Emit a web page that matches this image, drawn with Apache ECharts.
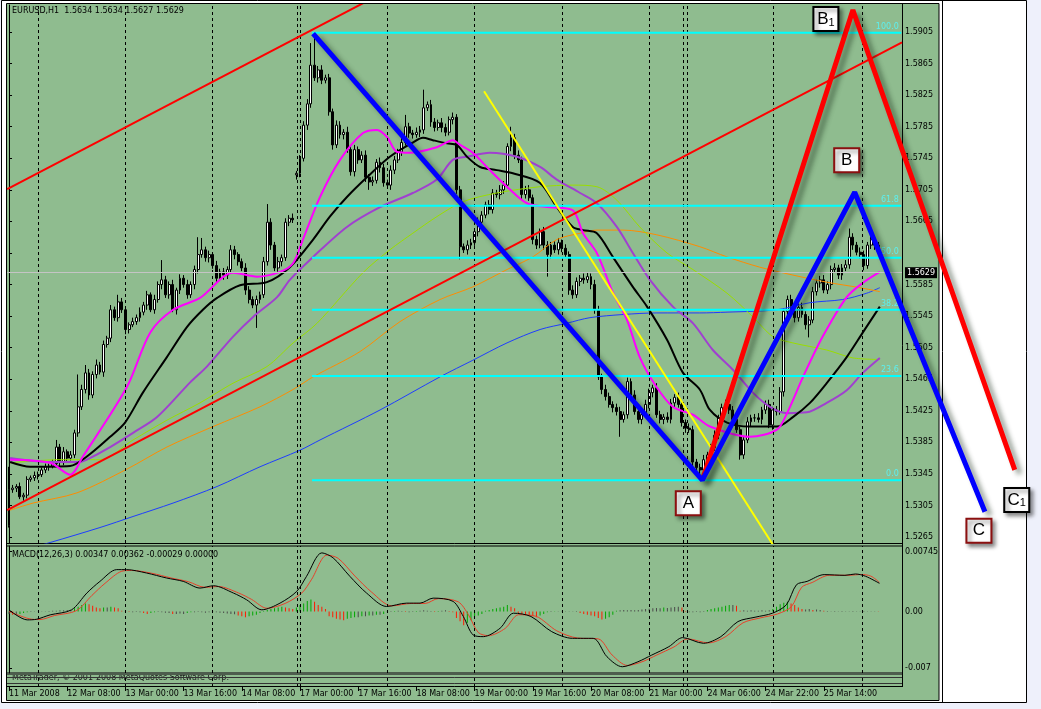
<!DOCTYPE html>
<html><head><meta charset="utf-8">
<script src="https://cdn.jsdelivr.net/npm/echarts@6/dist/echarts.min.js"></script>
<style>html,body{margin:0;padding:0;background:#eef0fb;overflow:hidden}#chart{width:1041px;height:709px}</style>
</head><body><div id="chart"></div>
<script>
const PIP = 0.0001;
// hourly closes, bar 0 = 11 Mar 2008 16:00
const closes = [
1.5325,1.5327,1.5329,1.5316,1.5318,1.5338,1.5340,1.5343,1.5344,1.5350,
1.5354,1.5355,1.5358,1.5379,1.5360,1.5373,1.5365,1.5369,1.5397,1.5430,
1.5452,1.5473,1.5445,1.5471,1.5483,1.5474,1.5509,1.5517,1.5553,1.5543,
1.5563,1.5553,1.5528,1.5534,1.5538,1.5543,1.5550,1.5559,1.5572,1.5553,
1.5566,1.5585,1.5591,1.5572,1.5585,1.5553,1.5578,1.5593,1.5585,1.5572,
1.5585,1.5604,1.5623,1.5629,1.5619,1.5623,1.5609,1.5593,1.5601,1.5597,
1.5604,1.5629,1.5623,1.5614,1.5606,1.5578,1.5566,1.5559,1.5566,1.5572,
1.5614,1.5664,1.5635,1.5606,1.5614,1.5619,1.5664,1.5669,1.5667,1.5726,
1.5745,1.5787,1.5814,1.5863,1.5847,1.5857,1.5844,1.5847,1.5804,1.5762,
1.5787,1.5775,1.5778,1.5756,1.5728,1.5756,1.5743,1.5749,1.5721,1.5715,
1.5717,1.5740,1.5733,1.5714,1.5711,1.5730,1.5743,1.5753,1.5765,1.5785,
1.5777,1.5775,1.5778,1.5781,1.5809,1.5813,1.5791,1.5784,1.5790,1.5784,
1.5778,1.5794,1.5797,1.5705,1.5633,1.5629,1.5635,1.5638,1.5652,1.5664,
1.5673,1.5686,1.5680,1.5701,1.5699,1.5705,1.5711,1.5760,1.5771,1.5749,
1.5743,1.5699,1.5705,1.5695,1.5642,1.5635,1.5652,1.5635,1.5623,1.5635,
1.5629,1.5638,1.5631,1.5623,1.5578,1.5572,1.5589,1.5593,1.5591,1.5595,
1.5585,1.5553,1.5468,1.5452,1.5443,1.5433,1.5429,1.5424,1.5414,1.5420,
1.5462,1.5445,1.5424,1.5414,1.5420,1.5433,1.5448,1.5454,1.5420,1.5414,
1.5417,1.5414,1.5435,1.5442,1.5433,1.5410,1.5403,1.5401,1.5360,1.5353,
1.5350,1.5363,1.5369,1.5378,1.5394,1.5416,1.5429,1.5433,1.5426,1.5414,
1.5401,1.5369,1.5388,1.5411,1.5416,1.5416,1.5414,1.5426,1.5433,1.5407,
1.5426,1.5424,1.5449,1.5551,1.5566,1.5553,1.5543,1.5556,1.5547,1.5534,
1.5540,1.5576,1.5587,1.5591,1.5578,1.5585,1.5604,1.5606,1.5597,1.5606,
1.5610,1.5645,1.5635,1.5626,1.5623,1.5609,1.5635,1.5642,1.5635,1.5629];
// opens that differ from the previous close (first bar, weekend gap)
const gapOpens = {0: 1.5280, 79: 1.5724};
// wick lengths in pips
const upperWick = [
29,4,3,5,3,4,3,5,4,3, 4,3,5,9,4,6,3,5,4,41, 6,10,5,4,7,4,5,3,6,4, 9,5,4,3,5,4,6,4,5,3,
6,4,25,5,4,6,3,5,4,6, 4,5,22,15,4,5,3,6,4,5, 4,6,5,3,4,6,5,4,5,4, 6,23,5,4,6,4,5,4,6,3,
4,5,6,28,41,5,6,4,5,4, 6,5,4,7,5,6,4,5,6,4, 5,4,6,5,4,6,5,4,6,15, 5,4,6,5,23,4,6,5,4,6,
5,4,6,4,5,4,6,5,4,6, 5,4,6,5,4,6,5,4,14,5, 6,4,5,6,4,5,4,6,5,4, 5,6,4,5,4,6,5,4,6,5,
4,6,5,4,6,5,4,5,6,4, 5,4,6,5,4,6,5,4,6,5, 4,6,5,4,6,5,4,6,5,4, 5,6,4,5,6,4,5,6,4,5,
6,4,5,6,4,5,6,4,5,6, 4,5,6,4,5,6,4,5,6,4, 5,6,4,5,6,4,5,6,4,5, 6,11,5,4,6,5,4,13,5,4];
const lowerWick = [
3,4,5,3,5,4,3,4,5,3, 4,5,3,4,6,4,5,3,4,5, 4,5,6,4,5,3,6,4,5,4, 5,4,6,5,3,4,5,4,6,3,
5,4,6,4,5,3,6,5,4,5, 4,6,5,4,5,6,4,5,3,6, 5,4,6,5,4,6,5,4,29,5, 4,5,6,4,5,6,4,5,4,6,
5,4,6,5,4,6,5,4,5,6, 4,5,6,4,5,6,5,4,6,10, 5,4,6,5,4,6,5,4,5,4, 6,5,4,6,5,4,6,5,4,6,
5,4,6,5,16,4,6,5,4,6, 5,4,6,5,4,6,5,4,6,5, 4,6,5,4,6,5,4,6,28,5, 4,6,5,4,6,5,4,6,5,4,
6,5,4,6,5,4,6,5,22,4, 5,6,4,5,6,4,5,6,4,5, 6,4,5,6,4,5,6,4,5,6, 13,4,5,6,4,5,6,4,5,6,
4,6,5,4,6,5,4,6,5,4, 6,5,4,6,5,4,6,5,4,6, 16,4,5,6,4,5,6,4,5,6, 4,5,6,4,5,6,4,5,6,4];

const timeLabels = ['11 Mar 2008','12 Mar 08:00','13 Mar 00:00','13 Mar 16:00','14 Mar 08:00','17 Mar 00:00','17 Mar 16:00','18 Mar 08:00','19 Mar 00:00','19 Mar 16:00','20 Mar 08:00','21 Mar 00:00','24 Mar 06:00','24 Mar 22:00','25 Mar 14:00'];
const timeLabelBars = [0,16,32,48,64,80,96,112,128,144,160,176,192,208,224];
const separatorBars = [8,32,56,79.3,80.2,104,128,152,176,185.4,186.4,210,234.6];
const priceTicks = [1.5265,1.5305,1.5345,1.5385,1.5425,1.5465,1.5505,1.5545,1.5585,1.5625,1.5665,1.5705,1.5745,1.5785,1.5825,1.5865,1.5905];
const priceTickShown = [1.5265,1.5305,1.5345,1.5385,1.5425,1.5465,1.5505,1.5545,1.5585,1.5665,1.5705,1.5745,1.5785,1.5825,1.5865,1.5905];
const lastPrice = 1.5629;
const macdTicks = [0.00745, 0, -0.007];
const macdTickLabels = ['0.00745','0.00','-0.007'];

// moving averages [bar, price]
const maMagenta = [[0.3,1.5363],[11.3,1.5359],[16.8,1.5344],[20.3,1.5367],[32.4,1.5455],[38.8,1.5524],[45.1,1.5553],[52.5,1.5568],[61.6,1.5600],[68.2,1.5595],[74.5,1.5601],[78.1,1.5612],[80.8,1.5642],[85.5,1.5696],[91,1.5743],[97.3,1.5777],[101.2,1.5781],[103.9,1.5772],[106.7,1.5753],[110.2,1.5752],[117.6,1.5759],[122,1.5768],[124,1.5762],[127.5,1.5752],[132.2,1.5730],[136.9,1.5709],[142.4,1.5688],[148.7,1.5683],[155,1.5679],[157.8,1.5650],[161.6,1.5625],[166,1.5575],[169.9,1.5540],[173.4,1.5493],[177.6,1.5458],[182.5,1.5430],[188,1.5420],[192.7,1.5405],[203.7,1.5392],[211.1,1.5401],[213.9,1.5422],[218.3,1.5468],[223.7,1.5519],[230.3,1.5569],[234.7,1.5587],[239.4,1.5601]];
const maBlack = [[0.3,1.5360],[5.8,1.5354],[16.8,1.5355],[21.4,1.5367],[27.8,1.5392],[31.9,1.5410],[36.8,1.5448],[43.4,1.5493],[48.9,1.5531],[53.3,1.5553],[57.2,1.5568],[63.5,1.5584],[70.9,1.5588],[77.2,1.5607],[83.6,1.5642],[88.2,1.5671],[92.9,1.5696],[98.4,1.5721],[104.7,1.5747],[111,1.5765],[113.8,1.5771],[116.5,1.5768],[120.4,1.5764],[123.1,1.5762],[125.9,1.5747],[129.5,1.5734],[134.1,1.5730],[138.5,1.5726],[145.9,1.5714],[150.6,1.5683],[155,1.5658],[157.8,1.5654],[161.6,1.5650],[166,1.5620],[171.5,1.5582],[175.4,1.5557],[180.9,1.5515],[185.3,1.5473],[189.9,1.5452],[192.7,1.5426],[197.4,1.5410],[203.7,1.5405],[211.1,1.5405],[215.5,1.5417],[220.2,1.5435],[224.8,1.5460],[230.3,1.5493],[234.7,1.5524],[239.4,1.5557]];
const maPurple = [[0.3,1.5365],[11.3,1.5360],[19.5,1.5360],[21.4,1.5363],[27.8,1.5379],[34.1,1.5397],[40.7,1.5417],[49.8,1.5461],[54.4,1.5481],[61.6,1.5519],[67.1,1.5544],[73.7,1.5569],[77.2,1.5591],[83.6,1.5620],[92.9,1.5658],[102,1.5683],[111,1.5701],[117.6,1.5718],[122,1.5743],[125.9,1.5747],[132.2,1.5752],[139.6,1.5747],[146,1.5734],[150.6,1.5718],[157,1.5701],[161.6,1.5688],[167.1,1.5658],[171.5,1.5625],[176.2,1.5591],[182.5,1.5557],[188,1.5536],[193.5,1.5502],[199,1.5477],[204.5,1.5448],[209.2,1.5430],[213.9,1.5422],[219.3,1.5423],[224.8,1.5435],[230.3,1.5451],[234.7,1.5473],[239.4,1.5492]];
const maLime = [[0.3,1.5359],[14,1.5363],[25,1.5363],[34.1,1.5388],[43.4,1.5413],[52.5,1.5435],[61.6,1.5460],[70.9,1.5481],[78.1,1.5511],[84.7,1.5536],[97.3,1.5600],[104.7,1.5629],[111,1.5650],[117.6,1.5671],[124.8,1.5690],[134.1,1.5701],[146,1.5709],[155,1.5711],[161.6,1.5709],[167.1,1.5692],[173.4,1.5658],[180.9,1.5625],[188,1.5604],[197.4,1.5574],[204.5,1.5544],[210,1.5519],[215.5,1.5511],[224.8,1.5502],[232,1.5492],[239.4,1.5490]];
const maOrange = [[0.3,1.5299],[6.6,1.5308],[18.7,1.5321],[32.4,1.5351],[43.4,1.5379],[56.1,1.5405],[69,1.5430],[78.1,1.5452],[83.6,1.5468],[96.5,1.5500],[107.5,1.5538],[118.5,1.5566],[127.5,1.5582],[136.9,1.5604],[144,1.5620],[150.6,1.5642],[157,1.5650],[161.6,1.5654],[168.8,1.5654],[178.1,1.5648],[189.9,1.5633],[197.4,1.5620],[206.4,1.5607],[215.5,1.5597],[224.8,1.5588],[233.9,1.5581],[239.4,1.5576]];
const maBlue = [[5,1.5250],[11.3,1.5258],[25,1.5277],[34.1,1.5291],[45.1,1.5308],[57.2,1.5329],[69,1.5354],[80,1.5375],[85.5,1.5388],[102,1.5426],[118.5,1.5468],[127.5,1.5489],[136.9,1.5511],[146,1.5528],[153.4,1.5536],[159.7,1.5543],[168.8,1.5547],[178.1,1.5549],[189.9,1.5549],[197.4,1.5550],[211.1,1.5553],[220.2,1.5562],[229.2,1.5566],[235.8,1.5574],[239.4,1.5581]];

// drawn objects [bar, price]
const channelUpper = [[-0.5,1.5706],[100,1.5948]];
const channelLower = [[-0.5,1.5299],[245.5,1.5892]];
const yellowLine = [[130.6,1.5830],[211,1.5248]];
const fibLevels = [1.5904,1.5685,1.5619,1.5553,1.5469,1.5337];
const fibNames = ['100.0','61.8','50.0','38.2','23.6','0.0'];
const fibStartBar = 83.3, fibEndBar = 245.3;
const waveBlue = [[83.6,1.5903],[190.6,1.5337],[232.5,1.5702],[268.3,1.5297]];
const waveRed = [[190.6,1.5337],[232,1.5933],[276.5,1.5350]];

// MACD(12,26,3)
const macdMain = [[0,0.0002],[5,-0.00104],[7.6,-0.00096],[11.3,-0.00042],[17.2,0.00021],[21.4,0.00229],[25,0.00374],[29.6,0.0052],[32.3,0.0052],[37.8,0.00478],[43.3,0.00416],[47.9,0.00374],[52.5,0.00291],[56.2,0.0032],[61.7,0.00229],[65.3,0.00146],[69.5,0.00021],[74.5,0.00104],[79.1,0.0025],[81.8,0.00437],[86,0.00728],[89.1,0.00666],[93.7,0.00437],[98.3,0.00229],[103.8,0.00062],[109.3,0.00104],[113,0.00104],[116.6,0.00166],[122.1,0.00125],[124.9,-0.00062],[127.6,-0.00291],[130.4,-0.00312],[135,-0.00208],[138.7,-0.00021],[143.5,-0.00062],[149.2,-0.0025],[154.9,-0.00333],[160.6,-0.00333],[164.4,-0.00562],[168.6,-0.00686],[172.9,-0.00624],[176.7,-0.00541],[181.4,-0.00437],[185.2,-0.00324],[190.9,-0.00395],[195.7,-0.00312],[200.4,-0.00125],[205.1,-0.00071],[209.9,-0.00021],[213.7,0.00083],[216.5,0.00333],[219.4,0.00374],[224.1,0.00458],[229.8,0.00449],[232.7,0.00466],[235.5,0.00437],[239.3,0.00350]];
const macdSignal = [[0,0.0000],[5.5,-0.0009],[8.5,-0.0010],[12.5,-0.0005],[18.5,0.0001],[22.8,0.0020],[26.4,0.0035],[31,0.0050],[33.7,0.0051],[39.2,0.00475],[44.7,0.00415],[49.3,0.0037],[53.9,0.0030],[57.6,0.0031],[63.1,0.0023],[66.7,0.0015],[70.9,0.0004],[75.9,0.0010],[80.5,0.0023],[83.2,0.0040],[87.4,0.0070],[90.5,0.0066],[95.1,0.0044],[99.7,0.0024],[105.2,0.0007],[110.7,0.0010],[114.4,0.0010],[118,0.0016],[123.5,0.0012],[126.3,-0.0004],[129,-0.0026],[131.8,-0.0030],[136.4,-0.0021],[140.1,-0.0004],[144.9,-0.0006],[150.6,-0.0024],[156.3,-0.0033],[162,-0.0034],[165.8,-0.0054],[170,-0.0067],[174.3,-0.0062],[178.1,-0.0054],[182.8,-0.0044],[186.6,-0.0034],[192.3,-0.0039],[197.1,-0.0031],[201.8,-0.0014],[206.5,-0.0008],[211.3,-0.0003],[215.1,0.0006],[217.9,0.0030],[220.8,0.0036],[225.5,0.0045],[231.2,0.0045],[234.1,0.0046],[236.9,0.0044],[239.3,0.00362]];
// histogram per bar, units of 0.0001
const osma = [-3,-4,-4,-3,-2, -1,-0.5,-0.3,0.2,0.3,0.3,0.5, 1,1,1.5,1.5,2,2, 4,6,8,10,9,7,5,4, 5,5,6,5,4, 1,0.5,-0.5,-1,-0.5,-1, -2,-3,-2, -1,-0.5,-1,-1.5,-2, -3,-3,-2.5,-3,-2,-1, -1,-0.5,-1,-1.5,-1,-0.5,-1,-1.5,-2,-2.5,-3,-3.5, -5,-6,-7,-6,-5,-4,-2,0.5, 2,3,4,5,6,5,4,3, 5,8,10,13,15,12,8,6, 3, -6,-7,-9,-10,-11,-9,-8, -7,-7,-6,-6,-5,-5,-4,-4,-3, -1,-0.5,0.5,1,0.5,-0.5,-1,-0.5,0.5,1,1.5,1,0.5,-0.5,0.5,1,1.5,0.5,-1, -8,-12,-17,-14,-11, -6,-5,-3, 1,2,3,4,5, 6,8,6,4, -2,-3,-4,-5,-6,-7,-5,-3, -1,-0.5,0.3,0.2,-0.3,0.2,0.3,-0.2,-0.5, -2,-3,-4,-5,-6,-8,-10,-9,-7,-4, 1,1.5,2,1.5,2,1.5,2,2.5, 3,3.5,4,4.5,4,5,4.5,5,5.5,6,5, -0.5,-1,-1,-0.5,-1,-0.5, 2,3,4,5,6,7,8,8,7, 1,1.5,1,1.5,1,1,1.5,1,1.5, 3,6,9,11,12,10,8,5, 3,2.5,3,2,2.5,2,1, 0.5,0.3,0.5,0.3,0.5,0.3,0.4,0.5,0.3,0.4,0.5,0.3,0.3,0.4,-0.3];

// ---------- build ----------
const FONT = 'DejaVu Sans';
const candleData = closes.map((c, j) => {
  const o = (j in gapOpens) ? gapOpens[j] : closes[j - 1];
  return [j, o, c, Math.min(o, c) - lowerWick[j] * PIP, Math.max(o, c) + upperWick[j] * PIP];
});
const X_MIN = -0.5, X_MAX = 245.5;
const GRID_LEFT = 7.2, GRID_RIGHT = 139;
const PX_PER_BAR = (1041 - GRID_RIGHT - GRID_LEFT) / (X_MAX - X_MIN);
const X_MAX_WIDE = X_MIN + (1041 - GRID_LEFT) / PX_PER_BAR;   // overlay spans into the right margin
const Y_MIN = 1.52574, Y_MAX = 1.59393;
const xBase = {type: 'value', min: X_MIN, max: X_MAX, show: false};

const sepLine = (xi, yi) => ({
  type: 'line', xAxisIndex: xi, yAxisIndex: yi, data: [], silent: true, z: 1,
  markLine: {symbol: 'none', silent: true, animation: false, label: {show: false},
    lineStyle: {color: '#000', type: [3, 3], width: 1},
    data: separatorBars.map(v => ({xAxis: v}))}
});
const simpleLine = (data, color, width, z, extra) => Object.assign({
  type: 'line', xAxisIndex: 0, yAxisIndex: 0, data, symbol: 'none', silent: true, z,
  lineStyle: {color, width}, smooth: 0.3
}, extra || {});

const waveShadow = {shadowColor: 'rgba(20,40,20,0.45)', shadowBlur: 5, shadowOffsetX: 5, shadowOffsetY: 4};
const labelBorder = {A: '#8b1010', B: '#8b1010', C: '#8b1010', B1: '#000000', C1: '#000000'};
const labelOffset = {A: [-14, 23], B: [-8, -32], C: [-6, 19], B1: [-27, 9], C1: [2, 30]};
const waveLabels = [['A', waveBlue[1]], ['B', waveBlue[2]], ['C', waveBlue[3]], ['B1', waveRed[1]], ['C1', waveRed[2]]]
  .map(([n, v]) => ({name: n, value: v, symbolOffset: labelOffset[n], itemStyle: {borderColor: labelBorder[n]}}));

const series = [
  sepLine(0, 0), sepLine(1, 1), sepLine(2, 2),
  {type: 'line', xAxisIndex: 0, yAxisIndex: 0, data: [], silent: true, z: 1,
    markLine: {symbol: 'none', silent: true, animation: false,
      lineStyle: {color: '#c4c4c4', type: 'solid', width: 1},
      label: {show: true, position: 'end', distance: 3, formatter: lastPrice.toFixed(4), color: '#fff', backgroundColor: '#000',
        fontFamily: FONT, fontSize: 8, padding: [2, 2, 1, 2]},
      data: [{yAxis: lastPrice}]}},
  {type: 'candlestick', xAxisIndex: 0, yAxisIndex: 0, data: candleData, encode: {x: 0, y: [1, 2, 3, 4]},
    barWidth: 2.4, z: 3, silent: true,
    itemStyle: {color: '#ffffff', color0: '#000000', borderColor: '#000000', borderColor0: '#000000', borderWidth: 1}},
  simpleLine(maBlue, '#1e3cff', 1, 4),
  simpleLine(maOrange, '#ff8c00', 1, 4),
  simpleLine(maLime, '#9ade00', 1, 4),
  simpleLine(maPurple, '#a040d0', 2, 4),
  simpleLine(maBlack, '#000000', 2, 4),
  simpleLine(maMagenta, '#ff00ff', 2, 4),
  ...fibLevels.map((lvl, k) => ({
    type: 'line', xAxisIndex: 0, yAxisIndex: 0, silent: true, z: 5, symbol: 'circle', symbolSize: 1, showSymbol: true,
    itemStyle: {color: 'rgba(0,0,0,0)'}, lineStyle: {color: '#00ffff', width: 2},
    data: [[fibStartBar, lvl], {value: [fibEndBar, lvl],
      label: {show: true, formatter: fibNames[k], position: 'left', distance: 2, offset: [0, -6], color: '#5cf0f0', fontFamily: FONT, fontSize: 8}}]
  })),
  simpleLine(channelUpper, '#ff0000', 2, 6, {smooth: false}),
  simpleLine(channelLower, '#ff0000', 2, 6, {smooth: false}),
  simpleLine(yellowLine, '#ffff00', 2, 6, {smooth: false}),
  simpleLine(waveRed, '#ff0000', 5, 7, {smooth: false, xAxisIndex: 3, yAxisIndex: 3, lineStyle: Object.assign({color: '#ff0000', width: 5}, waveShadow)}),
  simpleLine(waveBlue, '#0000ff', 5, 8, {smooth: false, xAxisIndex: 3, yAxisIndex: 3, lineStyle: Object.assign({color: '#0000ff', width: 5}, waveShadow)}),
  {type: 'scatter', xAxisIndex: 3, yAxisIndex: 3, clip: false, silent: true, z: 10, data: waveLabels,
    symbol: 'rect', symbolSize: [25, 24],
    itemStyle: {color: '#ffffff', opacity: 1, borderWidth: 2, shadowColor: 'rgba(0,0,0,0.45)', shadowBlur: 4, shadowOffsetX: 3, shadowOffsetY: 3},
    label: {show: true, position: 'inside',
      formatter: p => p.name.length > 1 ? '{m|' + p.name[0] + '}{s|' + p.name.slice(1) + '}' : '{m|' + p.name + '}',
      rich: {m: {fontFamily: 'Liberation Sans', fontSize: 17, color: '#000'},
             s: {fontFamily: 'Liberation Sans', fontSize: 11, color: '#000', verticalAlign: 'bottom', padding: [7, 0, 0, 0]}}}},
  {type: 'bar', xAxisIndex: 1, yAxisIndex: 1, silent: true, z: 3, barWidth: 1,
    data: osma.map((v, j) => [j, v * PIP]),
    itemStyle: {color: p => {
      const j = p.dataIndex, d = osma[j] - (j > 0 ? osma[j - 1] : osma[j]);
      if (Math.abs(d) < 0.6) return '#4a4a4a';
      return d > 0 ? '#00a800' : '#ff1a00';
    }}},
  {type: 'line', xAxisIndex: 1, yAxisIndex: 1, data: macdSignal, symbol: 'none', silent: true, z: 4, smooth: 0.3,
    lineStyle: {color: '#e8402a', width: 1}},
  {type: 'line', xAxisIndex: 1, yAxisIndex: 1, data: macdMain, symbol: 'none', silent: true, z: 4, smooth: 0.3,
    lineStyle: {color: '#000000', width: 1}}
];

const option = {
  animation: false,
  textStyle: {fontFamily: FONT},
  grid: [
    {left: GRID_LEFT, right: GRID_RIGHT, top: 5, bottom: 166},
    {left: GRID_LEFT, right: GRID_RIGHT, top: 546, bottom: 36},
    {left: GRID_LEFT, right: GRID_RIGHT, top: 676, bottom: 22},
    {left: GRID_LEFT, right: 0, top: 5, bottom: 166}
  ],
  xAxis: [
    Object.assign({gridIndex: 0}, xBase),
    Object.assign({gridIndex: 1}, xBase),
    {type: 'value', gridIndex: 2, min: X_MIN, max: X_MAX, position: 'bottom',
      axisLine: {show: false}, splitLine: {show: false},
      axisTick: {show: true, length: 4, customValues: timeLabelBars, lineStyle: {color: '#000'}},
      axisLabel: {customValues: timeLabelBars, formatter: v => timeLabels[timeLabelBars.indexOf(v)] || '',
        align: 'left', margin: 3, fontSize: 8, color: '#000', fontFamily: FONT}},
    {type: 'value', gridIndex: 3, min: X_MIN, max: X_MAX_WIDE, show: false}
  ],
  yAxis: [
    {type: 'value', gridIndex: 0, position: 'right', min: Y_MIN, max: Y_MAX,
      axisLine: {show: true, lineStyle: {color: '#000'}}, splitLine: {show: false},
      axisTick: {show: true, length: 3, customValues: priceTicks, lineStyle: {color: '#000'}},
      axisLabel: {customValues: priceTickShown, formatter: v => v.toFixed(4), margin: 3, fontSize: 8, color: '#000', fontFamily: FONT}},
    {type: 'value', gridIndex: 1, position: 'right', min: -0.007636, max: 0.008133,
      axisLine: {show: true, lineStyle: {color: '#000'}}, splitLine: {show: false},
      axisTick: {show: true, length: 3, customValues: macdTicks, lineStyle: {color: '#000'}},
      axisLabel: {customValues: macdTicks, formatter: v => macdTickLabels[macdTicks.indexOf(v)] || '', margin: 3, fontSize: 8, color: '#000', fontFamily: FONT}},
    {type: 'value', gridIndex: 2, min: 0, max: 1, show: false},
    {type: 'value', gridIndex: 3, min: Y_MIN, max: Y_MAX, show: false}
  ],
  graphic: [
    {type: 'rect', z: -10, shape: {x: 1.5, y: 0.5, width: 1025, height: 702}, style: {fill: '#ffffff', stroke: '#000', lineWidth: 1}},
    {type: 'rect', z: -9, shape: {x: 6.5, y: 3.5, width: 932.5, height: 697}, style: {fill: '#8fbc8f', stroke: '#000', lineWidth: 1}},
    {type: 'line', z: -8, shape: {x1: 942.5, y1: 0.5, x2: 942.5, y2: 702.5}, style: {stroke: '#000', lineWidth: 1}},
    {type: 'line', z: -8, shape: {x1: 7, y1: 543.5, x2: 902.5, y2: 543.5}, style: {stroke: '#000', lineWidth: 1}},
    {type: 'line', z: -8, shape: {x1: 7, y1: 546, x2: 902.5, y2: 546}, style: {stroke: '#000', lineWidth: 1}},
    {type: 'text', z: -7, x: 12, y: 674, style: {text: 'MetaTrader, © 2001-2008 MetaQuotes Software Corp.', fill: '#1a1a1a', fontSize: 8, fontFamily: FONT}},
    {type: 'rect', z: -6, shape: {x: 7, y: 672, width: 895.5, height: 3}, style: {fill: '#4d5d4d'}},
    {type: 'line', z: -6, shape: {x1: 7, y1: 677.5, x2: 902.5, y2: 677.5}, style: {stroke: '#333', lineWidth: 1}},
    {type: 'line', z: -6, shape: {x1: 7, y1: 683.5, x2: 902.5, y2: 683.5}, style: {stroke: '#333', lineWidth: 1}},
    {type: 'line', z: -6, shape: {x1: 7, y1: 686.5, x2: 902.5, y2: 686.5}, style: {stroke: '#000', lineWidth: 1}},
    {type: 'line', z: -6, shape: {x1: 902.5, y1: 3.5, x2: 902.5, y2: 687}, style: {stroke: '#000', lineWidth: 1}},
    {type: 'text', z: -5, x: 12, y: 7, style: {text: 'EURUSD,H1  1.5634 1.5634 1.5627 1.5629', fill: '#000', fontSize: 8, fontFamily: FONT}},
    {type: 'text', z: -5, x: 12, y: 551, style: {text: 'MACD(12,26,3) 0.00347 0.00362 -0.00029 0.00000', fill: '#000', fontSize: 8, fontFamily: FONT}}
  ],
  series
};
const chart = echarts.init(document.getElementById('chart'), null, {renderer: 'canvas'});
chart.setOption(option);
</script></body></html>
